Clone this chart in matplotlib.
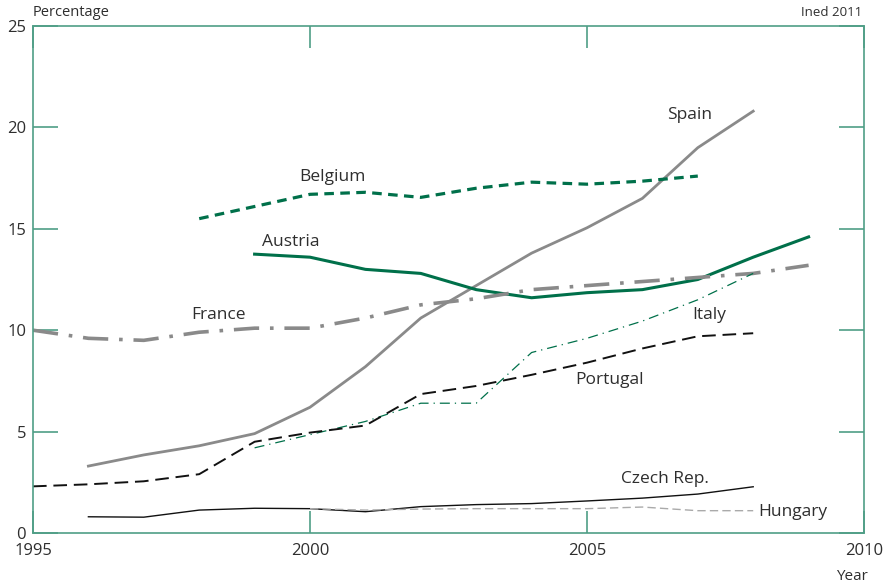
#!/usr/bin/env python3
"""Foreign-born share of population, selected European countries, 1995-2009."""
import matplotlib
matplotlib.use("Agg")
import matplotlib.pyplot as plt

years_spain = list(range(1996, 2009))
spain = [3.3, 3.85, 4.3, 4.9, 6.2, 8.2, 10.6, 12.2, 13.8, 15.05, 16.5, 19.0, 20.8]

years_belgium = list(range(1998, 2008))
belgium = [15.5, 16.1, 16.7, 16.8, 16.55, 17.0, 17.3, 17.2, 17.35, 17.6]

years_austria = list(range(1999, 2010))
austria = [13.75, 13.6, 13.0, 12.8, 12.0, 11.6, 11.85, 12.0, 12.5, 13.6, 14.6]

years_france = list(range(1995, 2010))
france = [10.0, 9.6, 9.5, 9.9, 10.1, 10.1, 10.6, 11.25, 11.55, 12.0, 12.2, 12.4, 12.6, 12.8, 13.2]

years_italy = list(range(1999, 2009))
italy = [4.2, 4.85, 5.5, 6.4, 6.4, 8.9, 9.6, 10.45, 11.5, 12.8]

years_portugal = list(range(1995, 2009))
portugal = [2.3, 2.4, 2.55, 2.9, 4.5, 4.95, 5.3, 6.85, 7.25, 7.8, 8.4, 9.1, 9.7, 9.85]

years_czech = list(range(1996, 2009))
czech = [0.8, 0.78, 1.13, 1.22, 1.2, 1.05, 1.3, 1.4, 1.45, 1.58, 1.72, 1.92, 2.28]

years_hungary = list(range(2000, 2009))
hungary = [1.2, 1.13, 1.18, 1.2, 1.2, 1.2, 1.28, 1.1, 1.1]

GREEN = "#00704a"
GREY = "#8a8a8a"
FRAME = "#4f9e86"
TEXT = "#2e2e2e"

plt.rcParams["font.family"] = ["Open Sans", "DejaVu Sans"]

fig = plt.figure(figsize=(8.85, 5.86), dpi=100)
ax = fig.add_axes([33 / 885, 1 - 533 / 586, (864 - 33) / 885, (533 - 26) / 586])

ax.plot(years_spain, spain, color=GREY, lw=2.0)
ax.plot(years_belgium, belgium, color=GREEN, lw=2.3, dashes=(3, 2))
ax.plot(years_austria, austria, color=GREEN, lw=2.2)
ax.plot(years_france, france, color=GREY, lw=2.6, dashes=(7, 3, 1, 3))
ax.plot(years_italy, italy, color=GREEN, lw=0.9, dashes=(8, 4, 1, 4))
ax.plot(years_portugal, portugal, color="#111111", lw=1.4, dashes=(7, 3.5))
ax.plot(years_czech, czech, color="#111111", lw=1.0)
ax.plot(years_hungary, hungary, color="#aaaaaa", lw=1.0, dashes=(6, 3))

labels = [
    ("Spain", 2006.85, 20.6, "center"),
    ("Belgium", 2000.4, 17.55, "center"),
    ("Austria", 1999.65, 14.35, "center"),
    ("France", 1998.35, 10.75, "center"),
    ("Italy", 2007.2, 10.75, "center"),
    ("Portugal", 2005.4, 7.55, "center"),
    ("Czech Rep.", 2006.4, 2.66, "center"),
    ("Hungary", 2008.1, 1.04, "left"),
]
for name, x, y, ha in labels:
    ax.text(x, y, name, ha=ha, va="center", fontsize=12.5, color=TEXT)

ax.set_xlim(1995, 2010)
ax.set_ylim(0, 25)
ax.set_xticks([1995, 2000, 2005, 2010])
ax.set_yticks([0, 5, 10, 15, 20, 25])

for side in ax.spines.values():
    side.set_color(FRAME)
    side.set_linewidth(1.2)

ax.tick_params(axis="y", direction="in", length=18, width=1.2, color=FRAME,
               left=True, right=True, labelsize=12, labelcolor=TEXT, pad=5)
ax.tick_params(axis="x", direction="in", length=16, width=1.2, color=FRAME,
               bottom=True, top=True, labelsize=12, labelcolor=TEXT, pad=7)

fig.text(33 / 885, 1 - 12 / 586, "Percentage", ha="left", va="center", fontsize=10.5, color=TEXT)
fig.text(862 / 885, 1 - 12 / 586, "Ined 2011", ha="right", va="center", fontsize=9.5, color=TEXT)
fig.text(852 / 885, 1 - 577 / 586, "Year", ha="center", va="center", fontsize=11, color=TEXT)

fig.savefig("out.png", dpi=100)
